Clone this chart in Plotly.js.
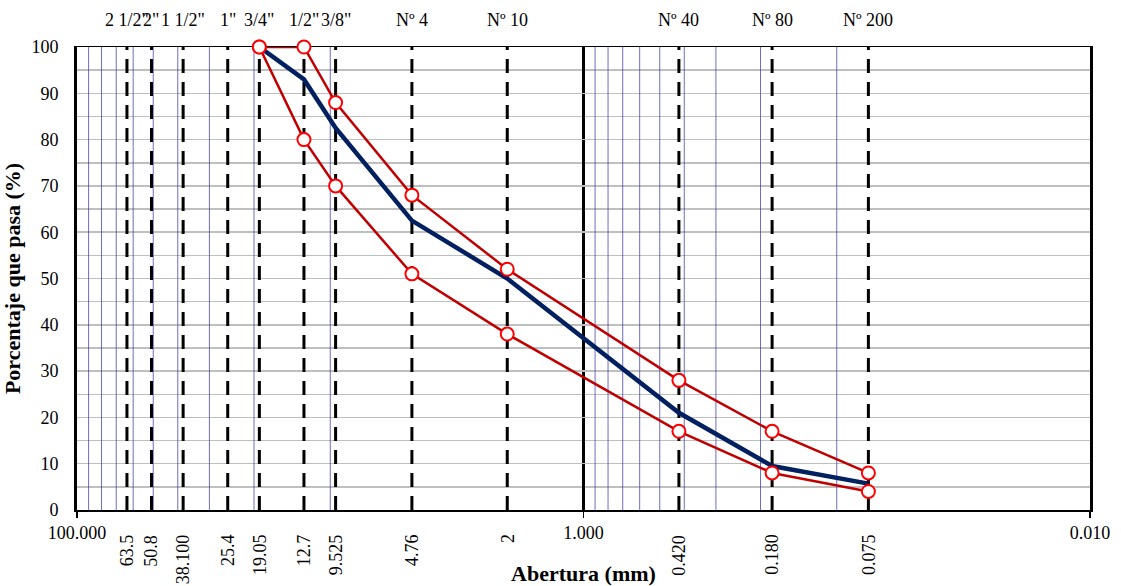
<!DOCTYPE html>
<html>
<head>
<meta charset="utf-8">
<script src="https://cdn.plot.ly/plotly-3.0.1.min.js"></script>
<style>html,body{margin:0;padding:0;background:#fff;}#chart{width:1121px;height:586px;}</style>
</head>
<body>
<div id="chart"></div>
<script>
// Sieve names and openings (mm)
var sieveNames = ['2 1/2"', '2"', '1 1/2"', '1"', '3/4"', '1/2"', '3/8"', 'Nº 4', 'Nº 10', 'Nº 40', 'Nº 80', 'Nº 200'];
var sieveSizes = [63.5, 50.8, 38.1, 25.4, 19.05, 12.7, 9.525, 4.76, 2, 0.42, 0.18, 0.075];
var sieveSizeLabels = ['63.5', '50.8', '38.100', '25.4', '19.05', '12.7', '9.525', '4.76', '2', '0.420', '0.180', '0.075'];

// Gradation curves
var curveSizes = [19.05, 12.7, 9.525, 4.76, 2, 0.42, 0.18, 0.075];
var upperLimit = [100, 100, 88, 68, 52, 28, 17, 8];
var lowerLimit = [100, 80, 70, 51, 38, 17, 8, 4];
var gradation = [100, 93, 82.5, 62.5, 50, 21, 9.5, 5.7];

// Axis ticks
var xTickVals = [100, 1, 0.01];
var xTickText = ['100.000', '1.000', '0.010'];
var minorGridVals = [90, 80, 70, 60, 50, 40, 30, 20, 10, 0.9, 0.8, 0.7, 0.6, 0.5, 0.4, 0.3, 0.2, 0.1];

var FONT = 'Liberation Serif, Times New Roman, serif';

function verticalLines(vals) {
  var xs = [], ys = [];
  vals.forEach(function (v) { xs.push(v, v, null); ys.push(0, 100, null); });
  return {x: xs, y: ys};
}

var minorLines = verticalLines(minorGridVals);
var sieveLines = verticalLines(sieveSizes);

var traces = [
  {x: minorLines.x, y: minorLines.y, mode: 'lines', hoverinfo: 'skip', showlegend: false,
   line: {color: 'rgba(60,60,175,0.75)', width: 1}},
  {x: sieveLines.x, y: sieveLines.y, mode: 'lines', hoverinfo: 'skip', showlegend: false,
   line: {color: '#000000', width: 3, dash: '14px,9px'}},
  {x: curveSizes, y: gradation, mode: 'lines', name: 'Granulometría', showlegend: false, cliponaxis: false,
   line: {color: '#002060', width: 4.5}},
  {x: curveSizes, y: upperLimit, mode: 'lines+markers', name: 'Límite superior', showlegend: false, cliponaxis: false,
   line: {color: '#C00000', width: 2.5},
   marker: {symbol: 'circle', size: 13, color: '#FFFFFF', line: {color: '#FF0000', width: 2}}},
  {x: curveSizes, y: lowerLimit, mode: 'lines+markers', name: 'Límite inferior', showlegend: false, cliponaxis: false,
   line: {color: '#C00000', width: 2.5},
   marker: {symbol: 'circle', size: 13, color: '#FFFFFF', line: {color: '#FF0000', width: 2}}}
];

var annotations = [];
sieveNames.forEach(function (n, i) {
  annotations.push({x: Math.log10(sieveSizes[i]), xref: 'x', y: 1.058, yref: 'paper',
    text: n, showarrow: false, xanchor: 'center', yanchor: 'middle',
    font: {family: FONT, size: 18, color: '#000'}});
});
sieveSizeLabels.forEach(function (t, i) {
  annotations.push({x: Math.log10(sieveSizes[i]), xref: 'x', y: -0.048, yref: 'paper',
    text: t, showarrow: false, textangle: -90, xanchor: 'center', yanchor: 'top',
    font: {family: FONT, size: 18, color: '#000'}});
});

var layout = {
  width: 1121, height: 586,
  margin: {l: 77, r: 31, t: 47, b: 76, pad: 0},
  paper_bgcolor: '#FFFFFF', plot_bgcolor: '#FFFFFF',
  font: {family: FONT, size: 18, color: '#000'},
  showlegend: false,
  xaxis: {
    type: 'log', range: [2, -2],
    tickvals: xTickVals, ticktext: xTickText,
    ticks: 'outside', ticklen: 6, tickwidth: 1.5, tickcolor: '#000',
    showgrid: true, gridcolor: '#000', gridwidth: 3,
    showline: true, linecolor: '#000', linewidth: 1.5, mirror: true,
    zeroline: false, layer: 'below traces', automargin: false,
    tickfont: {family: FONT, size: 18, color: '#000'},
    title: {text: 'Abertura (mm)', standoff: 30, font: {family: FONT, size: 22, color: '#000', weight: 'bold'}}
  },
  yaxis: {
    range: [0, 100], dtick: 10, tick0: 0,
    ticks: '', ticklabelstandoff: 12,
    showgrid: true, gridcolor: '#BFBFBF', gridwidth: 1.5,
    minor: {dtick: 5, showgrid: true, gridcolor: '#BFBFBF', gridwidth: 1.5},
    showline: true, linecolor: '#000', linewidth: 3, mirror: true,
    zeroline: false, layer: 'below traces', automargin: false,
    tickfont: {family: FONT, size: 18, color: '#000'},
    title: {text: 'Porcentaje que pasa (%)', standoff: 8, font: {family: FONT, size: 22, color: '#000', weight: 'bold'}}
  },
  annotations: annotations
};

Plotly.newPlot('chart', traces, layout, {displayModeBar: false, staticPlot: true});
</script>
</body>
</html>
